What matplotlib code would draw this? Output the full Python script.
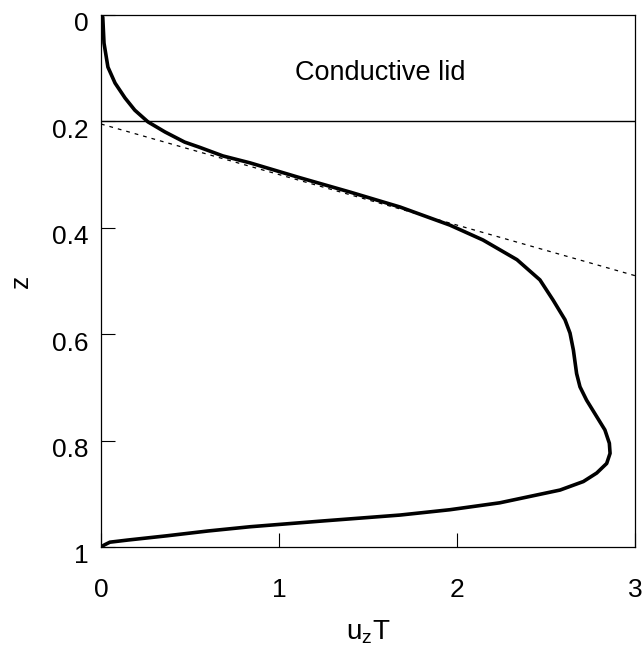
import matplotlib
matplotlib.use("Agg")
import matplotlib.pyplot as plt
import matplotlib.transforms as mtransforms

plt.rcParams["font.family"] = ["Liberation Sans", "DejaVu Sans"]
plt.rcParams["mathtext.fontset"] = "custom"
plt.rcParams["mathtext.rm"] = "Liberation Sans"

# heat flux profile u_z T against depth z
flux = [0.0, 0.01, 0.017, 0.039, 0.079, 0.135, 0.19, 0.264, 0.36, 0.47,
        0.556, 0.685, 0.837, 1.118, 1.40, 1.68, 1.96, 2.146, 2.337, 2.466,
        2.54, 2.607, 2.635, 2.654, 2.672, 2.691, 2.728, 2.785, 2.831, 2.856,
        2.860, 2.841, 2.785, 2.710, 2.579, 2.466, 2.24, 1.96, 1.68, 1.25,
        0.837, 0.6, 0.37, 0.15, 0.05, 0.02, 0.0]
depth = [0.0, 0.004, 0.053, 0.098, 0.128, 0.156, 0.179, 0.201, 0.220, 0.239,
         0.249, 0.265, 0.278, 0.306, 0.333, 0.361, 0.395, 0.423, 0.460, 0.498,
         0.536, 0.573, 0.598, 0.630, 0.674, 0.699, 0.724, 0.755, 0.780, 0.805,
         0.824, 0.843, 0.861, 0.877, 0.893, 0.901, 0.917, 0.930, 0.940, 0.951,
         0.962, 0.970, 0.979, 0.987, 0.991, 0.996, 1.0]

# linear fit through the upper part
fit_x = [0.0, 3.0]
fit_z = [0.205, 0.49]

lid_depth = 0.2

xticks = [0, 1, 2, 3]
yticks = [0, 0.2, 0.4, 0.6, 0.8, 1.0]
ytick_labels = ["0", "0.2", "0.4", "0.6", "0.8", "1"]

fig = plt.figure(figsize=(6.44, 6.5), dpi=100)
ax = fig.add_axes([0.1568, 0.1585, 0.8292, 0.8185])

ax.plot(flux, depth, color="black", lw=2.6, solid_capstyle="round",
        solid_joinstyle="round")
ax.plot(fit_x, fit_z, color="black", lw=0.9, linestyle=(0, (3, 4)))
ax.axhline(lid_depth, color="black", lw=1.0)
ax.text(1.57, 0.109, "Conductive lid", fontsize=19.5, ha="center", va="center")

ax.set_xlim(0, 3)
ax.set_ylim(1, 0)
ax.set_xticks(xticks)
ax.set_yticks(yticks)
ax.set_yticklabels(ytick_labels)
ax.tick_params(direction="in", length=10, width=0.8, labelsize=19)
ax.tick_params(axis="x", pad=22)
ax.tick_params(axis="y", pad=9)

# nudge y tick labels slightly downwards
offset = mtransforms.ScaledTranslation(0, -5 / 72, fig.dpi_scale_trans)
for lab in ax.get_yticklabels():
    lab.set_transform(lab.get_transform() + offset)

for sp in ax.spines.values():
    sp.set_linewidth(0.9)

ax.set_xlabel(r"$\mathregular{u_zT}$", fontsize=20, labelpad=12)
ax.set_ylabel("z", fontsize=19, labelpad=14)

fig.savefig("out.png", dpi=100)
